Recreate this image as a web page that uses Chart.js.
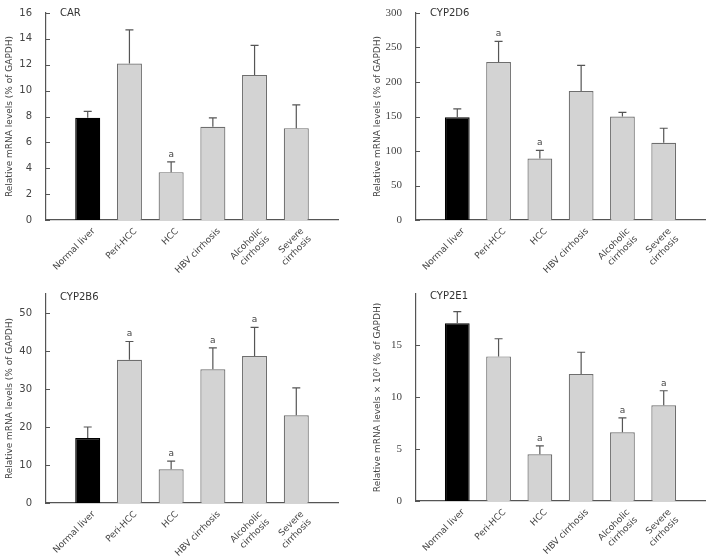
<!DOCTYPE html>
<html>
<head>
<meta charset="utf-8">
<script src="https://cdn.jsdelivr.net/npm/chart.js@4.4.0/dist/chart.umd.min.js"></script>
<style>
  body { margin: 0; background: #fff; width: 711px; height: 556px; position: relative; overflow: hidden; }
  canvas { position: absolute; }
</style>
</head>
<body>
<canvas id="car" style="left:0;top:0"></canvas>
<canvas id="cyp2d6" style="left:355px;top:0"></canvas>
<canvas id="cyp2b6" style="left:0;top:278px"></canvas>
<canvas id="cyp2e1" style="left:355px;top:278px"></canvas>
<script>
// groups on the x axis (two-line labels as arrays)
const groups = ['Normal liver', 'Peri-HCC', 'HCC', 'HBV cirrhosis', ['Alcoholic', 'cirrhosis'], ['Severe', 'cirrhosis']];

// CAR
const carMean = [7.9, 12.1, 3.7, 7.2, 11.2, 7.1];
const carSD   = [0.5, 2.6, 0.8, 0.7, 2.3, 1.8];
const carSig  = [false, false, true, false, false, false];

// CYP2D6
const cyp2d6Mean = [149, 229, 89, 187, 150, 112];
const cyp2d6SD   = [12, 30, 12, 37, 6, 21];
const cyp2d6Sig  = [false, true, true, false, false, false];

// CYP2B6
const cyp2b6Mean = [17.1, 37.7, 8.9, 35.2, 38.7, 23.1];
const cyp2b6SD   = [2.9, 4.8, 2.1, 5.6, 7.5, 7.2];
const cyp2b6Sig  = [false, true, true, true, true, false];

// CYP2E1 (x 10^2)
const cyp2e1Mean = [17.1, 13.9, 4.5, 12.2, 6.6, 9.2];
const cyp2e1SD   = [1.1, 1.7, 0.8, 2.1, 1.4, 1.4];
const cyp2e1Sig  = [false, false, true, false, true, true];

const sansFont = '"DejaVu Sans", Verdana, sans-serif';
const serifFont = '"Liberation Serif", "Times New Roman", serif';

// error bars (upwards only), the "a" marks, inward y ticks and panel name
const extras = {
  id: 'extras',
  afterDatasetsDraw(chart, args, o) {
    const ctx = chart.ctx;
    const y = chart.scales.y;
    const area = chart.chartArea;
    ctx.save();
    chart.getDatasetMeta(0).data.forEach((bar, i) => {
      const top = y.getPixelForValue(o.mean[i] + o.sd[i]);
      const base = y.getPixelForValue(o.mean[i]);
      ctx.strokeStyle = '#555';
      ctx.lineWidth = 1.2;
      ctx.beginPath();
      ctx.moveTo(bar.x, base);
      ctx.lineTo(bar.x, top);
      ctx.moveTo(bar.x - 4, top);
      ctx.lineTo(bar.x + 4, top);
      ctx.stroke();
      if (o.sig[i]) {
        ctx.fillStyle = '#444';
        ctx.font = '9px ' + sansFont;
        ctx.textAlign = 'center';
        ctx.textBaseline = 'bottom';
        ctx.fillText('a', bar.x, top - 3);
      }
    });
    // short tick marks pointing into the plot
    ctx.strokeStyle = '#555';
    ctx.lineWidth = 1;
    y.ticks.forEach(t => {
      const py = Math.round(y.getPixelForValue(t.value)) + 0.5;
      ctx.beginPath();
      ctx.moveTo(area.left, py);
      ctx.lineTo(area.left + 4, py);
      ctx.stroke();
    });
    ctx.fillStyle = '#333';
    ctx.font = '10px ' + sansFont;
    ctx.textAlign = 'left';
    ctx.textBaseline = 'middle';
    ctx.fillText(o.name, area.left + 14, area.top + o.nameDy);
    ctx.restore();
  }
};

function panel(id, p) {
  const canvas = document.getElementById(id);
  canvas.width = p.w;
  canvas.height = 278;
  canvas.style.width = p.w + 'px';
  canvas.style.height = '278px';
  const pts = p.mean.map((v, i) => ({ x: i, y: v }));
  new Chart(canvas, {
    type: 'bar',
    data: {
      datasets: [{
        data: pts,
        backgroundColor: p.mean.map((v, i) => i === 0 ? '#000' : '#d3d3d3'),
        borderColor: p.mean.map((v, i) => i === 0 ? '#000' : '#6e6e6e'),
        borderWidth: 1.2,
        barPercentage: 0.6,
        categoryPercentage: 1
      }]
    },
    options: {
      responsive: false,
      animation: false,
      events: [],
      layout: { padding: { top: p.top, right: p.right, left: 0, bottom: 0 } },
      plugins: {
        legend: { display: false },
        tooltip: { enabled: false },
        extras: { mean: p.mean, sd: p.sd, sig: p.sig, name: p.name, nameDy: p.nameDy }
      },
      scales: {
        x: {
          type: 'linear',
          min: -1,
          max: 6,
          offset: false,
          grid: { display: false, drawTicks: false },
          border: { color: '#555', width: 1.2 },
          afterBuildTicks: s => { s.ticks = groups.map((g, i) => ({ value: i })); },
          afterFit: s => { s.height = p.xHeight; },
          ticks: {
            autoSkip: false,
            minRotation: 45,
            maxRotation: 45,
            padding: 6,
            labelOffset: 6,
            color: '#444',
            font: { family: sansFont, size: 9 },
            callback: v => groups[v]
          }
        },
        y: {
          min: 0,
          max: p.max,
          grid: { display: false },
          border: { color: '#555', width: 1.2 },
          afterFit: s => { s.width = p.yWidth; },
          ticks: {
            stepSize: p.step,
            includeBounds: false,
            padding: 6,
            color: '#444',
            font: { family: p.tickFont, size: p.tickSize }
          },
          title: {
            display: true,
            text: p.title,
            color: '#444',
            font: { family: sansFont, size: 9 },
            padding: { top: p.titlePad, bottom: 0 }
          }
        }
      }
    },
    plugins: [extras]
  });
}

const yTitle = 'Relative mRNA levels (% of GAPDH)';

panel('car', { w: 355, mean: carMean, sd: carSD, sig: carSig, name: 'CAR', nameDy: 0,
  max: 16, step: 2, top: 13, right: 17, yWidth: 46, xHeight: 58, titlePad: 4,
  tickFont: sansFont, tickSize: 10, title: yTitle });
panel('cyp2d6', { w: 356, mean: cyp2d6Mean, sd: cyp2d6SD, sig: cyp2d6Sig, name: 'CYP2D6', nameDy: 0,
  max: 300, step: 50, top: 13, right: 6, yWidth: 61, xHeight: 58, titlePad: 17,
  tickFont: serifFont, tickSize: 11, title: yTitle });
panel('cyp2b6', { w: 355, mean: cyp2b6Mean, sd: cyp2b6SD, sig: cyp2b6Sig, name: 'CYP2B6', nameDy: 3,
  max: 55, step: 10, top: 16, right: 17, yWidth: 46, xHeight: 53, titlePad: 4,
  tickFont: sansFont, tickSize: 10, title: yTitle });
panel('cyp2e1', { w: 356, mean: cyp2e1Mean, sd: cyp2e1SD, sig: cyp2e1Sig, name: 'CYP2E1', nameDy: 2,
  max: 19.9, step: 5, top: 16, right: 6, yWidth: 61, xHeight: 55, titlePad: 17,
  tickFont: serifFont, tickSize: 11, title: 'Relative mRNA levels \u00d7 10\u00b2 (% of GAPDH)' });
</script>
</body>
</html>
